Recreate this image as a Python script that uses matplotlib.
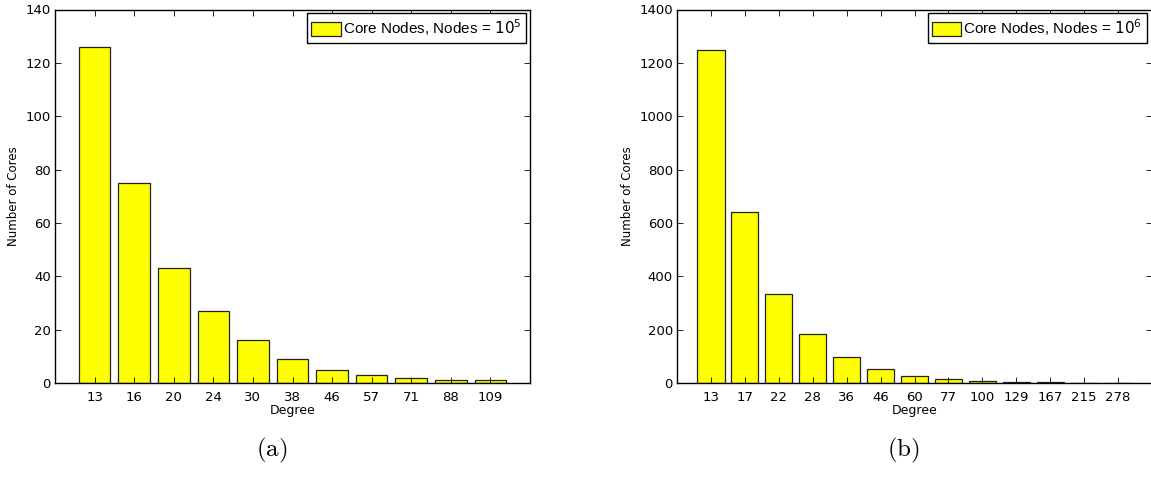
import matplotlib
matplotlib.use("Agg")
import matplotlib.pyplot as plt

plt.rcParams['font.family'] = ['DejaVu Sans']

# degree bins and core counts for the two network sizes
degrees_a = ['13', '16', '20', '24', '30', '38', '46', '57', '71', '88', '109']
cores_a = [126, 75, 43, 27, 16, 9, 5, 3, 2, 1, 1]

degrees_b = ['13', '17', '22', '28', '36', '46', '60', '77', '100', '129', '167', '215', '278']
cores_b = [1250, 640, 335, 185, 98, 53, 27, 15, 8, 4, 2, 1, 1]

W, H = 1151.0, 482.0
fig = plt.figure(figsize=(W / 100, H / 100), dpi=100)
ax1 = fig.add_axes([55 / W, 1 - 383 / H, 475 / W, 373.5 / H])
ax2 = fig.add_axes([677 / W, 1 - 383 / H, 475 / W, 373.5 / H])


def draw(ax, labels, values, ymax, step, exponent, caption, cx, legend_right):
    pos = list(range(1, len(labels) + 1))
    ax.bar(pos, values, width=0.8, color='#ffff00', edgecolor='#222222',
           linewidth=0.9, label='Core Nodes, Nodes = $10^{%d}$' % exponent)
    ax.set_xlim(0, len(labels) + 1)
    ax.set_ylim(0, ymax)
    ax.set_xticks(pos)
    ax.set_xticklabels(labels)
    ax.set_yticks(range(0, ymax + 1, step))
    ax.tick_params(direction='in', top=True, right=True, labelsize=9.5,
                   length=4, width=0.6)
    ax.tick_params(axis='x', pad=6)
    ax.tick_params(axis='y', pad=3)
    for s in ax.spines.values():
        s.set_linewidth(1.0)
    ax.set_xlabel('Degree', fontsize=9, labelpad=0)
    ax.set_ylabel('Number of Cores', fontsize=8.5, labelpad=4)
    leg = ax.legend(loc='upper right',
                    bbox_to_anchor=(legend_right / W, 1 - 13 / H),
                    bbox_transform=fig.transFigure,
                    prop={'family': 'Liberation Sans', 'size': 11},
                    fancybox=False, edgecolor='black', framealpha=1,
                    borderpad=0.3, handlelength=1.9, handleheight=1.1,
                    handletextpad=0.15, borderaxespad=0)
    leg.get_frame().set_linewidth(1.0)
    fig.text(cx / W, 1 - 450 / H, caption, ha='center', va='center',
             fontsize=18, math_fontfamily='cm')


draw(ax1, degrees_a, cores_a, 140, 20, 5, r'$\mathrm{(a)}$', 272, 526)
draw(ax2, degrees_b, cores_b, 1400, 200, 6, r'$\mathrm{(b)}$', 903, 1147)

fig.savefig('out.png', dpi=100)
